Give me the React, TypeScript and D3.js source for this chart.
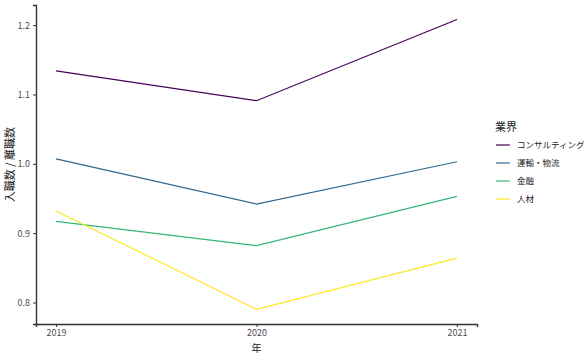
import React, { useEffect, useRef } from "react";
import * as d3 from "d3";

const years = [2019, 2020, 2021];
const industries = ["コンサルティング", "運輸・物流", "金融", "人材"];
const colors = ["#440154", "#31688E", "#35B779", "#FDE725"];
const consulting = [1.134, 1.091, 1.208];
const logistics = [1.007, 0.942, 1.003];
const finance = [0.917, 0.882, 0.953];
const staffing = [0.932, 0.79, 0.864];
const yTicks = [0.8, 0.9, 1.0, 1.1, 1.2];

const seriesValues = [consulting, logistics, finance, staffing];

const App: React.FC = () => {
  const svgRef = useRef<SVGSVGElement>(null);

  const width = 588;
  const height = 354;
  const margin = { top: 5, right: 111, bottom: 30, left: 36 };

  useEffect(() => {
    if (!svgRef.current) return;
    const svg = d3.select(svgRef.current);
    svg.selectAll("*").remove();

    const font = "'Noto Sans CJK JP', 'Noto Sans', sans-serif";

    const x = d3
      .scaleLinear()
      .domain([2018.9, 2021.1])
      .range([margin.left, width - margin.right]);
    const y = d3
      .scaleLinear()
      .domain([0.769, 1.229])
      .range([height - margin.bottom, margin.top]);

    // lines
    const line = d3
      .line<number>()
      .x((_, i) => x(years[i]))
      .y((d) => y(d));

    seriesValues.forEach((vals, i) => {
      svg
        .append("path")
        .datum(vals)
        .attr("d", line)
        .attr("fill", "none")
        .attr("stroke", colors[i])
        .attr("stroke-width", 1.2);
    });

    // x axis
    const gx = svg
      .append("g")
      .attr("transform", `translate(0,${height - margin.bottom})`)
      .call(
        d3
          .axisBottom(x)
          .tickValues(years)
          .tickFormat(d3.format("d"))
          .tickSizeOuter(0)
          .tickSize(3)
          .tickPadding(3)
      );
    gx.select(".domain").attr("stroke", "#333").attr("stroke-width", 1.4);
    gx.selectAll(".tick line").attr("stroke", "#333");
    gx.selectAll("text")
      .attr("fill", "#4d4d4d")
      .style("font-size", "9px")
      .style("font-family", font);

    // y axis
    const gy = svg
      .append("g")
      .attr("transform", `translate(${margin.left},0)`)
      .call(
        d3
          .axisLeft(y)
          .tickValues(yTicks)
          .tickFormat(d3.format(".1f"))
          .tickSizeOuter(0)
          .tickSize(3)
          .tickPadding(3)
      );
    gy.select(".domain").attr("stroke", "#333").attr("stroke-width", 1.4);
    gy.selectAll(".tick line").attr("stroke", "#333");
    gy.selectAll("text")
      .attr("fill", "#4d4d4d")
      .style("font-size", "9px")
      .style("font-family", font);

    // axis titles
    svg
      .append("text")
      .attr("x", x(2020))
      .attr("y", height - 2)
      .attr("text-anchor", "middle")
      .style("font-size", "10.5px")
      .style("font-family", font)
      .attr("fill", "#222")
      .text("年");

    svg
      .append("text")
      .attr("transform", "rotate(-90)")
      .attr("x", -(margin.top + height - margin.bottom) / 2)
      .attr("y", 14)
      .attr("text-anchor", "middle")
      .style("font-size", "11px")
      .style("font-family", font)
      .attr("fill", "#222")
      .text("入職数 / 離職数");

    // legend
    const lg = svg.append("g").attr("transform", "translate(495,0)");
    lg.append("text")
      .attr("x", 0)
      .attr("y", 131)
      .style("font-size", "11px")
      .style("font-family", font)
      .attr("fill", "#222")
      .text("業界");

    industries.forEach((name, i) => {
      const cy = 145 + i * 18;
      lg.append("line")
        .attr("x1", 1)
        .attr("x2", 15)
        .attr("y1", cy)
        .attr("y2", cy)
        .attr("stroke", colors[i])
        .attr("stroke-width", 1.2);
      lg.append("text")
        .attr("x", 22)
        .attr("y", cy)
        .attr("dy", "0.35em")
        .style("font-size", "8.5px")
        .style("font-family", font)
        .attr("fill", "#222")
        .text(name);
    });
  }, []);

  return (
    <svg
      ref={svgRef}
      width={width}
      height={height}
      style={{ position: "absolute", left: 0, top: 0, background: "#fff" }}
    />
  );
};

export default App;
